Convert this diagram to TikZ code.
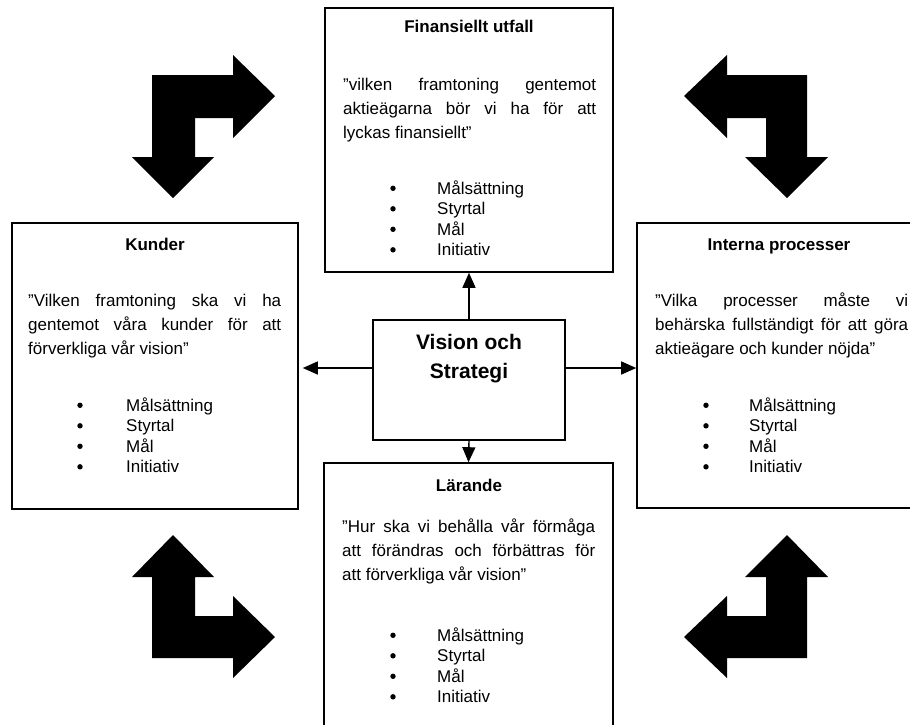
\documentclass[tikz,border=0pt]{standalone}
\usepackage{fontspec}
\setmainfont{Liberation Sans}
\usetikzlibrary{arrows.meta}

% one justified line of a quotation, stretched to the column width
\newcommand\jline[1]{\makebox[253pt][s]{#1}}
% three-line quotation: name, left x, first baseline, lines 1-3
\newcommand\qlines[6]{%
  \node[para] (#1-q1) at (#2,#3) {\jline{#4}};
  \node[para] (#1-q2) at (#2,#3+24) {\jline{#5}};
  \node[para] (#1-q3) at (#2,#3+48) {#6};}
% bulleted list of goals: name, bullet centre x, text x, first baseline
\newcommand\goals[4]{%
  \foreach \t [count=\i] in {Målsättning,Styrtal,Mål,Initiativ}{%
    \node[dot] (#1-b\i) at (#2,#4+20.5*\i-26.2) {};
    \node[item] (#1-i\i) at (#3,#4+20.5*\i-20.5) {\t};}}

\begin{document}
\begin{tikzpicture}[x=1pt,y=-1pt,
  box/.style={draw, line width=1.6pt, inner sep=0pt, rectangle},
  head/.style={font=\bfseries\fontsize{17}{20}\selectfont, inner sep=0pt, anchor=base},
  bighead/.style={font=\bfseries\fontsize{21}{29}\selectfont, inner sep=0pt, anchor=base},
  para/.style={font=\fontsize{17}{24}\selectfont, inner sep=0pt, anchor=base west},
  item/.style={font=\fontsize{17}{20}\selectfont, inner sep=0pt, anchor=base west},
  dot/.style={circle, fill=black, inner sep=0pt, minimum size=5.4pt},
  conn/.style={line width=1.4pt, -{Triangle[length=15pt,width=13pt]}},
  bentarrow/.style={fill=black}]

\useasboundingbox (0,0) rectangle (910,724);
\clip (0,0) rectangle (910,724);

% perspective boxes
\node[box, minimum width=288pt, minimum height=264pt] (fin) at (469,140) {};
\node[box, minimum width=286pt, minimum height=286pt] (kund) at (155,366) {};
\node[box, minimum width=288pt, minimum height=285pt] (intern) at (781,365.5) {};
\node[box, minimum width=289pt, minimum height=286pt] (lar) at (468.5,606) {};
\node[box, minimum width=192pt, minimum height=120pt] (vis) at (469,380) {};

% Finansiellt utfall
\node[head] (fin-h) at (469,32) {Finansiellt utfall};
\qlines{fin}{343}{90}{”vilken framtoning gentemot}{aktieägarna bör vi ha för att}{lyckas finansiellt”}
\goals{fin}{393}{437}{194}

% Kunder
\node[head] (kund-h) at (155,250) {Kunder};
\qlines{kund}{28}{306}{”Vilken framtoning ska vi ha}{gentemot våra kunder för att}{förverkliga vår vision”}
\goals{kund}{80}{126}{411}

% Interna processer
\node[head] (intern-h) at (779,250) {Interna processer};
\qlines{intern}{655}{306}{”Vilka processer måste vi}{behärska fullständigt för att göra}{aktieägare och kunder nöjda”}
\goals{intern}{706}{749}{411}

% Lärande
\node[head] (lar-h) at (469,491) {Lärande};
\qlines{lar}{342}{532}{”Hur ska vi behålla vår förmåga}{att förändras och förbättras för}{att förverkliga vår vision”}
\goals{lar}{393}{437}{641}

% Vision och Strategi
\node[bighead] (vis-1) at (469,349) {Vision och};
\node[bighead] (vis-2) at (469,378) {Strategi};

% connectors from the centre
\draw[conn] (vis.north) -- (fin.south);
\draw[conn] (vis.south) -- (lar.north);
\draw[conn, shorten >=4pt] ([yshift=12pt]vis.west) -- ([yshift=12pt]vis.west -| kund.east);
\draw[conn] ([yshift=12pt]vis.east) -- ([yshift=12pt]vis.east -| intern.west);

% bent double arrows in the corners
\fill[bentarrow] (152,75) -- (233,75) -- (233,55) -- (275,96) -- (233,138) -- (233,118)
  -- (195,118) -- (195,157) -- (214,157) -- (173,198) -- (132,157) -- (152,157) -- cycle;
\fill[bentarrow] (807,75) -- (727,75) -- (727,55) -- (684,96) -- (727,138) -- (727,118)
  -- (766,118) -- (766,157) -- (745,157) -- (787,198) -- (828,157) -- (807,157) -- cycle;
\fill[bentarrow] (152,658) -- (233,658) -- (233,678) -- (275,637) -- (233,596) -- (233,616)
  -- (195,616) -- (195,577) -- (214,577) -- (173,535) -- (132,577) -- (152,577) -- cycle;
\fill[bentarrow] (807,658) -- (727,658) -- (727,678) -- (684,637) -- (727,596) -- (727,616)
  -- (766,616) -- (766,577) -- (745,577) -- (787,535) -- (828,577) -- (807,577) -- cycle;
\end{tikzpicture}
\end{document}
